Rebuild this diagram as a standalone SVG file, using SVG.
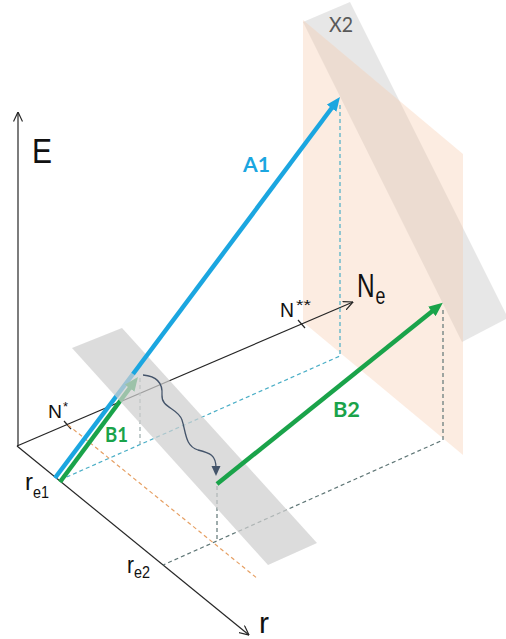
<svg xmlns="http://www.w3.org/2000/svg" width="506" height="639" viewBox="0 0 506 639">
<style>
.axis{stroke:#262626;stroke-width:1.2;fill:none}
.tick{stroke:#262626;stroke-width:1.2}
.dblue{stroke:#4aaec6;stroke-width:1.2;stroke-dasharray:4 3;fill:none}
.dgray{stroke:#5f7676;stroke-width:1.2;stroke-dasharray:4 3;fill:none}
.dorange{stroke:#e6a064;stroke-width:1.2;stroke-dasharray:4 3;fill:none}
.blue{stroke:#1ba6e0;stroke-width:4.5;fill:none}
.green{stroke:#1aa34a;stroke-width:4.5;fill:none}
.t{font-family:"Liberation Sans",Arial,sans-serif;fill:#111}
.v{font-family:Lato,"Open Sans",sans-serif;font-weight:bold}
</style>
<defs>
<marker id="open" viewBox="0 0 10 10" refX="9.5" refY="5" markerWidth="10" markerHeight="10" markerUnits="userSpaceOnUse" orient="auto">
<path d="M0,0.5 L9.5,5 L0,9.5" fill="none" stroke="#262626" stroke-width="1.2"/>
</marker>
<marker id="ablue" viewBox="0 0 14 12" refX="4" refY="6" markerWidth="14" markerHeight="12" markerUnits="userSpaceOnUse" orient="auto">
<path d="M0,0 L14,6 L0,12 z" fill="#1ba6e0"/>
</marker>
<marker id="agreen" viewBox="0 0 14 12" refX="4" refY="6" markerWidth="14" markerHeight="12" markerUnits="userSpaceOnUse" orient="auto">
<path d="M0,0 L14,6 L0,12 z" fill="#1aa34a"/>
</marker>
<marker id="aslate" viewBox="0 0 10 10" refX="2" refY="5" markerWidth="10" markerHeight="10" markerUnits="userSpaceOnUse" orient="auto">
<path d="M0,0.5 L10,5 L0,9.5 z" fill="#44546a"/>
</marker>
</defs>

<g id="plane-X2">
<polygon points="303,22 350,2 508,318 462,342" fill="#d9d9d9" opacity="0.62"/>
<text x="329" y="32" font-family="Lato,'Open Sans',sans-serif" font-size="22" fill="#595959" textLength="24" lengthAdjust="spacingAndGlyphs">X2</text>
</g>
<g id="plane-Ne">
<polygon points="303,20 463,154 463,455 303,322" fill="#f8cbad" opacity="0.36"/>
</g>

<g id="axes">
<line class="axis" x1="18" y1="446" x2="18" y2="112" marker-end="url(#open)"/>
<line class="axis" x1="17" y1="446" x2="353" y2="302" marker-end="url(#open)"/>
<line class="axis" x1="17" y1="446" x2="249" y2="635" marker-end="url(#open)"/>
<line class="tick" x1="64" y1="421" x2="71" y2="429"/>
<line class="tick" x1="298" y1="320" x2="305" y2="328"/>
</g>

<g id="connectors">
<polyline class="dblue" points="340,105 340,356 60,480"/>
<polyline class="dgray" points="140,378 140,444" style="stroke:#9aabab"/>
<line class="dorange" x1="68" y1="425" x2="258" y2="579"/>
<polyline class="dgray" points="443,310 443,440 163,565"/>
<line class="dgray" x1="217" y1="486" x2="217" y2="541"/>
</g>

<g id="B1">
<line class="blue" x1="55" y1="478" x2="133" y2="374"/>
<line class="green" x1="60" y1="482" x2="132" y2="385" marker-end="url(#agreen)"/>
</g>

<g id="band">
<polygon points="72,348 122,328 317,543 268,565" fill="#cfcfcf" opacity="0.72"/>
</g>

<g id="A1">
<line class="blue" x1="133" y1="374" x2="334" y2="105" marker-end="url(#ablue)"/>
<text class="v" x="243" y="172" font-size="21" fill="#1ba6e0" textLength="27" lengthAdjust="spacingAndGlyphs">A1</text>
</g>

<g id="B2">
<line class="green" x1="217" y1="484" x2="435" y2="309" marker-end="url(#agreen)"/>
<text class="v" x="333" y="417" font-size="20" fill="#1aa34a" textLength="27" lengthAdjust="spacingAndGlyphs">B2</text>
</g>

<g id="B1-label">
<text class="v" x="105" y="442" font-size="21" fill="#1aa34a" textLength="23" lengthAdjust="spacingAndGlyphs">B1</text>
</g>

<g id="transition">
<path d="M143,375 C155,376 163,382 162,395 C161,408 178,408 182,420 C186,432 185,446 198,450 C210,453 216,455 216,468" fill="none" stroke="#44546a" stroke-width="1.3" marker-end="url(#aslate)"/>
</g>

<g id="labels">
<text class="t" x="32" y="163" font-size="35" textLength="20" lengthAdjust="spacingAndGlyphs">E</text>
<text class="t" transform="translate(357,297) scale(0.74,1)" x="0" y="0" font-size="33">N<tspan font-size="24" dx="1" dy="7">e</tspan></text>
<text class="t" x="280" y="317" font-size="21" textLength="14" lengthAdjust="spacingAndGlyphs">N</text>
<text class="t" x="296" y="310" font-size="14" textLength="15" lengthAdjust="spacingAndGlyphs">**</text>
<text class="t" x="48" y="418" font-size="19" textLength="14" lengthAdjust="spacingAndGlyphs">N</text>
<text class="t" x="63" y="411" font-size="13">*</text>
<text class="t" x="25" y="490" font-size="24" textLength="8" lengthAdjust="spacingAndGlyphs">r</text>
<text class="t" x="33" y="498" font-size="16" textLength="16" lengthAdjust="spacingAndGlyphs">e1</text>
<text class="t" x="127" y="573" font-size="24" textLength="7" lengthAdjust="spacingAndGlyphs">r</text>
<text class="t" x="134" y="578" font-size="16" textLength="16" lengthAdjust="spacingAndGlyphs">e2</text>
<text class="t" x="259" y="633" font-size="30" textLength="10" lengthAdjust="spacingAndGlyphs">r</text>
</g>
</svg>
